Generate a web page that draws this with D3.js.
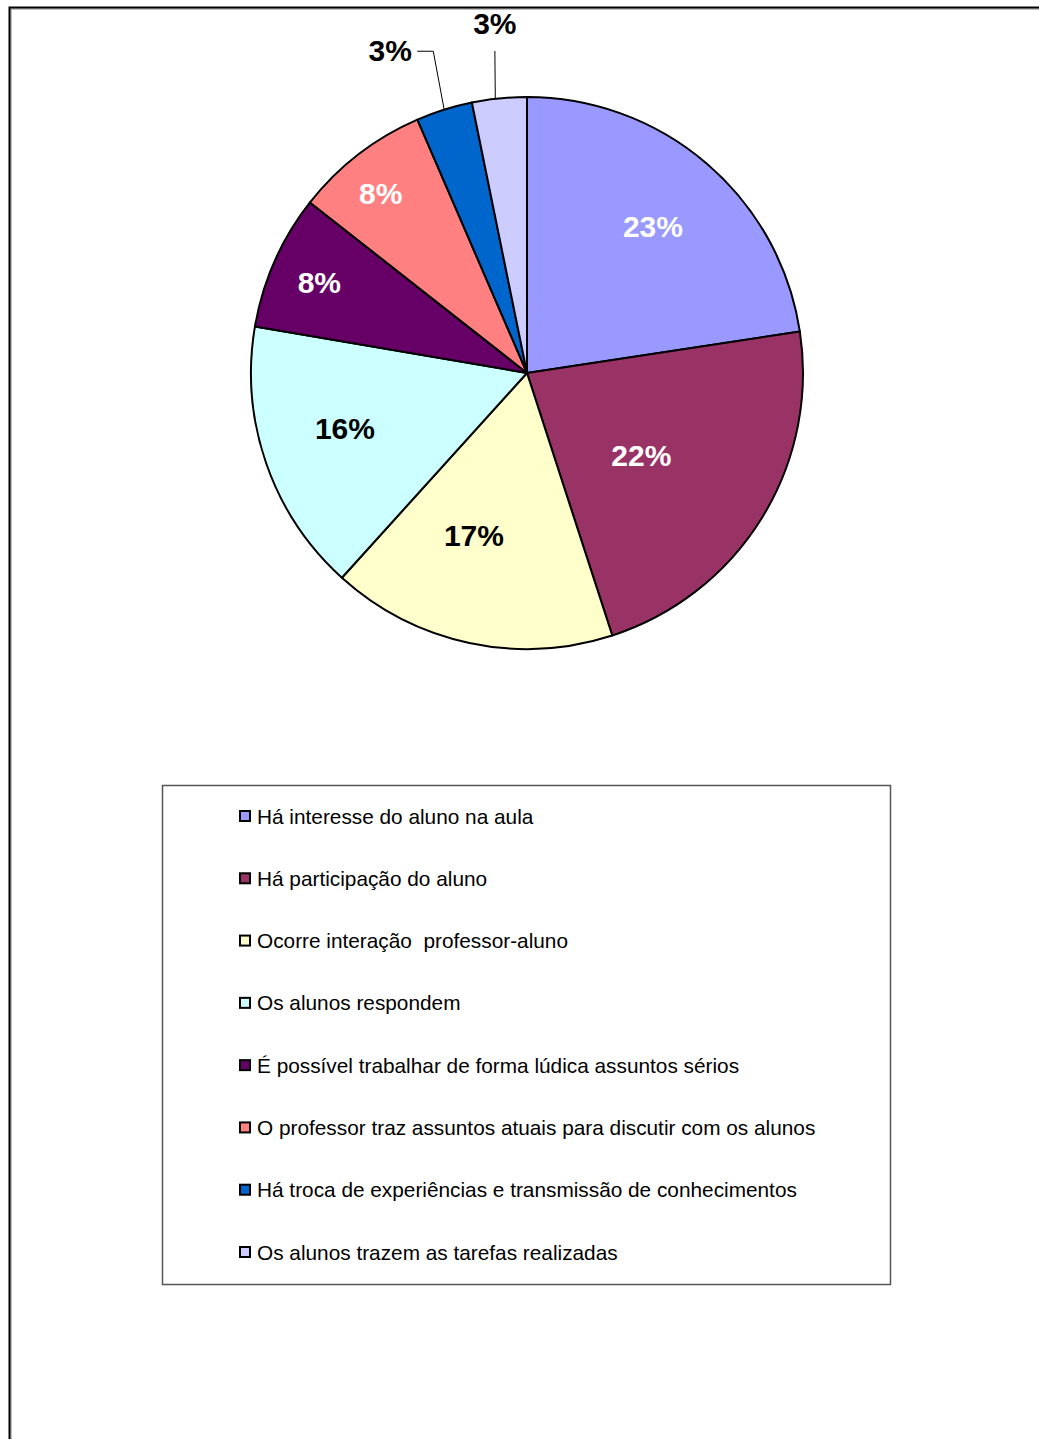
<!doctype html>
<html>
<head>
<meta charset="utf-8">
<script src="https://d3js.org/d3.v7.min.js"></script>
<style>
body { margin: 0; background: #fff; }
</style>
</head>
<body>
<svg width="1039" height="1439"></svg>
<script>
// categories + values (percent of answers)
var categories = [
    "Há interesse do aluno na aula",
    "Há participação do aluno",
    "Ocorre interação  professor-aluno",
    "Os alunos respondem",
    "É possível trabalhar de forma lúdica assuntos sérios",
    "O professor traz assuntos atuais para discutir com os alunos",
    "Há troca de experiências e transmissão de conhecimentos",
    "Os alunos trazem as tarefas realizadas"
]
var values = [22.6, 22.4, 16.7, 16.0, 7.9, 7.9, 3.3, 3.2]
var labels = ["23%", "22%", "17%", "16%", "8%", "8%", "3%", "3%"]

var colors = ["#9999FF", "#993366", "#FFFFCC", "#CCFFFF", "#660066", "#FF8080", "#0066CC", "#CCCCFF"]
var label_colors = ["#fff", "#fff", "#000", "#000", "#fff", "#fff", "#000", "#000"]
// label placement: [radius factor, angle shift in degrees]
var label_layout = [[0.70, 0], [0.51, 4], [0.62, 6], [0.69, 2], [0.82, -0.5], [0.84, -1.5], [1.27, -5.5], [1.27, 0.5]]

var svg = d3.select("svg")
var font = "'Liberation Sans', Arial, sans-serif"

// page frame
svg.append("path").attr("d", "M11,1439 V9 H1039").attr("fill", "none").attr("stroke", "#aaa").attr("stroke-width", 1.5)
svg.append("path").attr("d", "M9.5,1439 V7.5 H1039").attr("fill", "none").attr("stroke", "#000").attr("stroke-width", 2)

var cx = 527, cy = 373, radius = 276

var pie = d3.pie().sort(null).value(function(d) { return d; })
var arcs = pie(values)
var arc = d3.arc().innerRadius(0).outerRadius(radius)

var g = svg.append("g").attr("transform", "translate(" + cx + "," + cy + ")")

g.selectAll(".slice")
    .data(arcs)
    .enter().append("path")
    .attr("d", arc)
    .attr("fill", function(d, i) { return colors[i]; })
    .attr("stroke", "#000")
    .attr("stroke-width", 2)
    .attr("stroke-linejoin", "round")

function label_pos(d, i) {
    var a = (d.startAngle + d.endAngle) / 2 + label_layout[i][1] * Math.PI / 180
    var r = radius * label_layout[i][0]
    return [r * Math.sin(a), -r * Math.cos(a)]
}

// leader lines for the two small outside labels
var blue = arcs[6], lilac = arcs[7]
var a6 = (blue.startAngle + blue.endAngle) / 2
var p6 = [radius * Math.sin(a6), -radius * Math.cos(a6)]
var l6 = label_pos(blue, 6)
g.append("path")
    .attr("d", "M" + p6[0] + "," + p6[1] + " L" + (l6[0] + 43) + "," + (l6[1] + 1) + " H" + (l6[0] + 27))
    .attr("fill", "none").attr("stroke", "#000").attr("stroke-width", 1)
var a7 = (lilac.startAngle + lilac.endAngle) / 2
var p7 = [radius * Math.sin(a7) - 4, -radius * Math.cos(a7)]
var l7 = label_pos(lilac, 7)
g.append("line")
    .attr("x1", p7[0]).attr("y1", p7[1])
    .attr("x2", l7[0]).attr("y2", l7[1] + 27)
    .attr("stroke", "#000").attr("stroke-width", 1)

g.selectAll(".lbl")
    .data(arcs)
    .enter().append("text")
    .attr("x", function(d, i) { return label_pos(d, i)[0]; })
    .attr("y", function(d, i) { return label_pos(d, i)[1]; })
    .attr("text-anchor", "middle")
    .attr("dominant-baseline", "central")
    .attr("font-family", font).attr("font-weight", "bold").attr("font-size", "30px")
    .attr("fill", function(d, i) { return label_colors[i]; })
    .text(function(d, i) { return labels[i]; })

// legend
svg.append("rect")
    .attr("x", 162.5).attr("y", 785.5).attr("width", 728).attr("height", 499)
    .attr("fill", "#fff").attr("stroke", "#555").attr("stroke-width", 1.5)

var row_y = d3.scalePoint().domain(d3.range(categories.length)).range([816, 1252])

var lg = svg.selectAll(".legend")
    .data(categories)
    .enter().append("g")
    .attr("transform", function(d, i) { return "translate(0," + row_y(i) + ")"; })
lg.append("rect")
    .attr("x", 240).attr("y", -5).attr("width", 10).attr("height", 10)
    .attr("fill", function(d, i) { return colors[i]; })
    .attr("stroke", "#000").attr("stroke-width", 2)
lg.append("text")
    .attr("x", 257).attr("y", 0)
    .attr("dominant-baseline", "central")
    .style("white-space", "pre")
    .attr("font-family", font).attr("font-size", "20.8px")
    .attr("fill", "#000")
    .text(function(d) { return d; })
</script>
</body>
</html>
